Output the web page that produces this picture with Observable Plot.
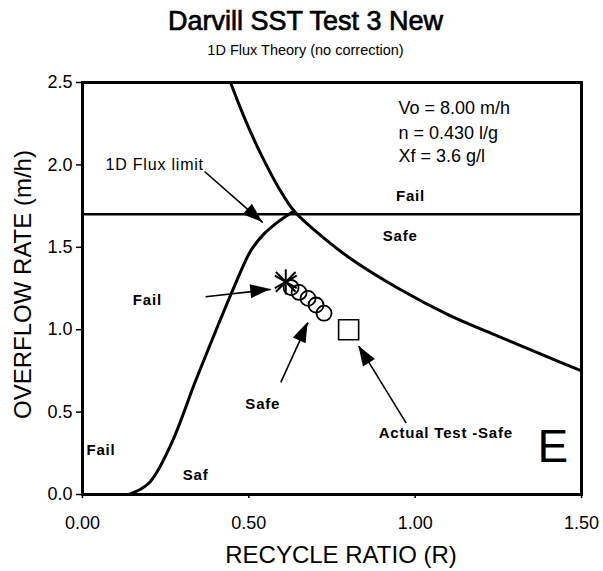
<!DOCTYPE html>
<html>
<head>
<meta charset="utf-8">
<script src="https://cdn.jsdelivr.net/npm/d3@7"></script>
<script src="https://cdn.jsdelivr.net/npm/@observablehq/plot@0.6"></script>
<style>
  body { margin: 0; background: #fff; font-family: "Liberation Sans", Arial, sans-serif; color: #000; }
  #wrap { width: 603px; height: 571px; overflow: hidden; }
  #head { position: relative; width: 603px; height: 66px; }
  #title { position: absolute; left: 4px; width: 603px; top: 3px; line-height: 36px; font-size: 27px; font-weight: normal; -webkit-text-stroke: 0.7px #000; text-align: center; }
  #sub { position: absolute; left: 4px; width: 603px; top: 40px; line-height: 20px; font-size: 14.5px; text-align: center; }
  #chart svg { display: block; }
</style>
</head>
<body>
<div id="wrap">
  <div id="head">
    <div id="title">Darvill SST Test 3 New</div>
    <div id="sub">1D Flux Theory (no correction)</div>
  </div>
  <div id="chart"></div>
</div>
<script>
// ---- data ----
const xTicks = [0, 0.5, 1.0, 1.5];
const xTickLabels = ["0.00", "0.50", "1.00", "1.50"];
const yTicks = [0, 0.5, 1.0, 1.5, 2.0, 2.5];
const yTickLabels = ["0.0", "0.5", "1.0", "1.5", "2.0", "2.5"];

// overflow-rate (state point) limit curve
const limitCurveX = [0.445, 0.49, 0.54, 0.59, 0.636, 0.70, 0.80, 0.95, 1.10, 1.25, 1.38, 1.50];
const limitCurveY = [2.50, 2.27, 2.05, 1.86, 1.72, 1.60, 1.44, 1.25, 1.09, 0.96, 0.85, 0.75];

// underflow limit curve (left)
const underCurveX = [0.14, 0.20, 0.265, 0.34, 0.40, 0.46, 0.506, 0.545, 0.585, 0.636];
const underCurveY = [0.00, 0.07, 0.30, 0.69, 0.99, 1.28, 1.48, 1.58, 1.65, 1.72];

// 1D flux limit (horizontal)
const fluxLimitX = [0, 1.5];
const fluxLimitY = [1.7, 1.7];

// test points
const failPointX = [0.611];
const failPointY = [1.29];
const safePointsX = [0.627, 0.651, 0.678, 0.702, 0.726];
const safePointsY = [1.256, 1.226, 1.19, 1.15, 1.10];
const actualX = [0.80];
const actualY = [1.00];

// annotation arrows (data units)
const arrowX1 = [0.367, 0.37, 0.596, 0.973];
const arrowY1 = [1.96, 1.20, 0.68, 0.433];
const arrowX2 = [0.542, 0.566, 0.678, 0.831];
const arrowY2 = [1.65, 1.244, 1.043, 0.90];

// annotation labels (centred)
const labelText = ["Fail", "Safe", "Fail", "Safe", "Actual Test -Safe", "Saf"];
const labelX = [0.986, 0.955, 0.195, 0.542, 1.092, 0.34];
const labelY = [1.81, 1.57, 1.18, 0.55, 0.37, 0.115];

// annotation labels (left-aligned)
const leftLabelText = ["Fail"];
const leftLabelX = [0.012];
const leftLabelY = [0.267];

const fluxLabel = ["1D Flux limit"];
const fluxLabelX = [0.069];
const fluxLabelY = [2.0];

const paramText = ["Vo = 8.00 m/h", "n = 0.430 l/g", "Xf = 3.6 g/l"];
const paramX = [0.95, 0.95, 0.95];
const paramY = [2.345, 2.19, 2.05];

const panelLetter = ["E"];
const panelX = [1.368];
const panelY = [0.2];

// ---- chart ----
const font = "'Liberation Sans', Arial, sans-serif";

function arrowHeads(index, scales) {
  const g = d3.create("svg:g").attr("fill", "black");
  for (let i = 0; i < arrowX2.length; i++) {
    const x1 = scales.x(arrowX1[i]), y1 = scales.y(arrowY1[i]);
    const x2 = scales.x(arrowX2[i]), y2 = scales.y(arrowY2[i]);
    const a = Math.atan2(y2 - y1, x2 - x1);
    const L = 20, W = 7;
    const bx = x2 - L * Math.cos(a), by = y2 - L * Math.sin(a);
    const px = -Math.sin(a) * W, py = Math.cos(a) * W;
    g.append("path").attr("d", `M${x2},${y2}L${bx + px},${by + py}L${bx - px},${by - py}Z`);
  }
  return g.node();
}

const plot = Plot.plot({
  width: 603,
  height: 505,
  marginTop: 16,
  marginBottom: 77,
  marginLeft: 82,
  marginRight: 22,
  style: { fontFamily: font, color: "black", background: "white" },
  x: { domain: [0, 1.5] },
  y: { domain: [0, 2.5] },
  marks: [
    Plot.axisX({ ticks: xTicks, tickFormat: d => xTickLabels[xTicks.indexOf(d)], tickSize: 4, tickPadding: 18, fontSize: 18, label: null, strokeWidth: 1.5 }),
    Plot.axisY({ ticks: yTicks, tickFormat: d => yTickLabels[yTicks.indexOf(d)], tickSize: 6, tickPadding: 4, fontSize: 18, label: null, strokeWidth: 1.5 }),
    Plot.text(["RECYCLE RATIO (R)"], { frameAnchor: "bottom", dx: 9, dy: 61, fontSize: 24, textAnchor: "middle", lineAnchor: "middle" }),
    Plot.text(["OVERFLOW RATE (m/h)"], { frameAnchor: "left", dx: -59, dy: -4, rotate: -90, fontSize: 24, textAnchor: "middle", lineAnchor: "middle" }),
    Plot.line(fluxLimitX, { x: fluxLimitX, y: fluxLimitY, strokeWidth: 2.5, stroke: "black" }),
    Plot.line(limitCurveX, { x: limitCurveX, y: limitCurveY, strokeWidth: 3, stroke: "black", curve: "catmull-rom" }),
    Plot.line(underCurveX, { x: underCurveX, y: underCurveY, strokeWidth: 3, stroke: "black", curve: "catmull-rom" }),
    Plot.frame({ strokeWidth: 3, stroke: "black" }),
    Plot.link(arrowX1, { x1: arrowX1, y1: arrowY1, x2: arrowX2, y2: arrowY2, strokeWidth: 1.6, stroke: "black" }),
    arrowHeads,
    Plot.dot(safePointsX, { x: safePointsX, y: safePointsY, r: 7.5, stroke: "black", strokeWidth: 1.8, fill: "none" }),
    Plot.dot(failPointX, { x: failPointX, y: failPointY, symbol: "asterisk", r: 12, stroke: "black", strokeWidth: 2 }),
    Plot.dot(failPointX, { x: failPointX, y: failPointY, symbol: "times", r: 9, stroke: "black", strokeWidth: 2 }),
    Plot.dot(actualX, { x: actualX, y: actualY, symbol: "square", r: 11.3, stroke: "black", strokeWidth: 1.6, fill: "white" }),
    Plot.text(labelText, { x: labelX, y: labelY, textAnchor: "middle", fontSize: 15, fontWeight: "bold" }),
    Plot.text(leftLabelText, { x: leftLabelX, y: leftLabelY, textAnchor: "start", fontSize: 15, fontWeight: "bold" }),
    Plot.text(fluxLabel, { x: fluxLabelX, y: fluxLabelY, textAnchor: "start", fontSize: 16 }),
    Plot.text(paramText, { x: paramX, y: paramY, textAnchor: "start", fontSize: 18 }),
    Plot.text(panelLetter, { x: panelX, y: panelY, textAnchor: "start", lineAnchor: "bottom", fontSize: 46 })
  ]
});

// letter spacing for annotation labels (scanned text is loosely spaced)
plot.querySelectorAll("text").forEach(t => {
  if (["Fail", "Safe", "Saf", "Actual Test -Safe", "1D Flux limit"].includes(t.textContent)) {
    t.style.letterSpacing = "0.8px";
  }
});

document.getElementById("chart").appendChild(plot);
</script>
</body>
</html>
